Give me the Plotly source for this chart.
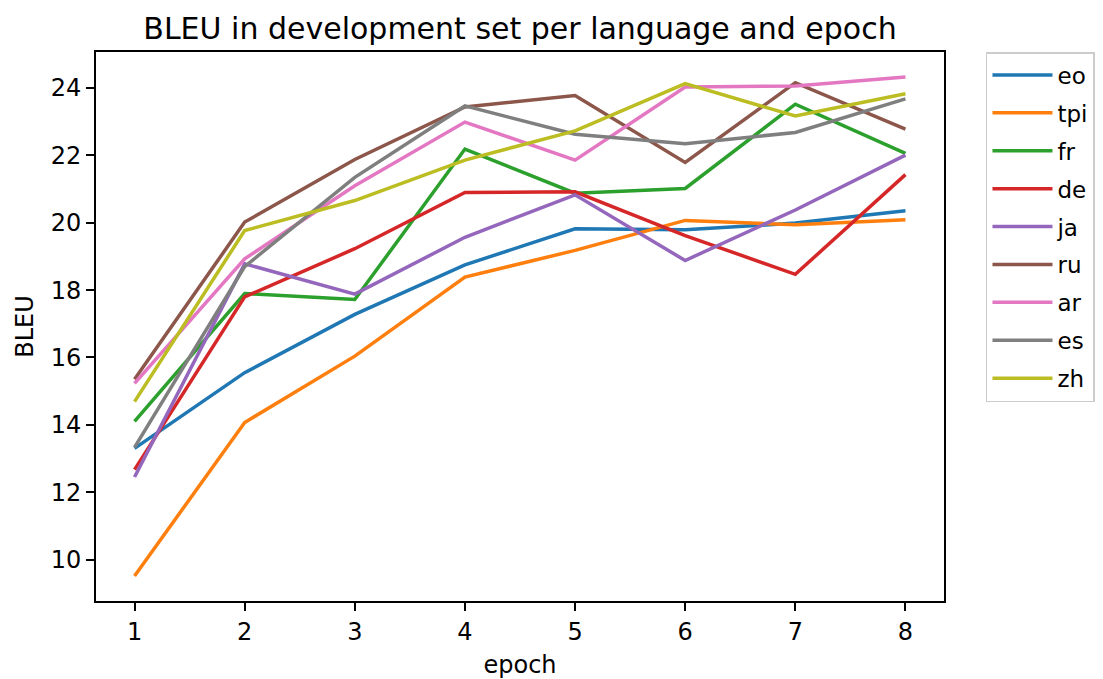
import plotly.graph_objects as go

# BLEU on the development set, one series per language, epochs 1-8
epochs = [1, 2, 3, 4, 5, 6, 7, 8]
languages = ["eo", "tpi", "fr", "de", "ja", "ru", "ar", "es", "zh"]

bleu_eo = [13.30, 15.55, 17.28, 18.75, 19.82, 19.79, 19.99, 20.36]
bleu_tpi = [9.51, 14.07, 16.04, 18.39, 19.18, 20.07, 19.94, 20.09]
bleu_fr = [14.10, 17.90, 17.72, 22.19, 20.88, 21.02, 23.52, 22.06]
bleu_de = [12.67, 17.80, 19.23, 20.90, 20.92, 19.62, 18.47, 21.43]
bleu_ja = [12.45, 18.78, 17.88, 19.57, 20.83, 18.88, 20.38, 22.01]
bleu_ru = [15.35, 20.02, 21.88, 23.44, 23.78, 21.79, 24.16, 22.78]
bleu_ar = [15.23, 18.93, 21.10, 22.99, 21.86, 24.03, 24.06, 24.33]
bleu_es = [13.33, 18.70, 21.35, 23.47, 22.63, 22.35, 22.68, 23.68]
bleu_zh = [14.69, 19.77, 20.66, 21.86, 22.73, 24.13, 23.17, 23.83]

series = [bleu_eo, bleu_tpi, bleu_fr, bleu_de, bleu_ja, bleu_ru, bleu_ar, bleu_es, bleu_zh]
colors = ["#1f77b4", "#ff7f0e", "#2ca02c", "#d62728", "#9467bd",
          "#8c564b", "#e377c2", "#7f7f7f", "#bcbd22"]

FONT = "DejaVu Sans"

fig = go.Figure()
for name, vals, col in zip(languages, series, colors):
    fig.add_trace(go.Scatter(
        x=epochs, y=vals, mode="lines", name=name, legendgroup=name,
        line=dict(color=col, width=3.5),
    ))

all_vals = [v for s in series for v in s]
lo, hi = min(all_vals), max(all_vals)
pad = 0.05 * (hi - lo)

axis_common = dict(
    showgrid=False, zeroline=False, automargin=False,
    showline=True, mirror=True, linecolor="black", linewidth=2,
    ticks="outside", ticklen=8, tickwidth=2, tickcolor="black",
    tickfont=dict(family=FONT, size=24, color="black"),
)

fig.update_layout(
    width=1103, height=679,
    margin=dict(l=96, r=159, t=52, b=78, autoexpand=False),
    paper_bgcolor="white", plot_bgcolor="white",
    font=dict(family=FONT, color="black"),
    title=dict(
        text="BLEU in development set per language and epoch",
        font=dict(family=FONT, size=30, color="black"),
        x=0.5, xanchor="center", xref="paper",
        y=0.958, yanchor="middle", yref="container",
    ),
    xaxis=dict(
        range=[0.65, 8.35], tickmode="array", tickvals=epochs,
        title=dict(text="epoch", font=dict(family=FONT, size=24), standoff=15),
        **axis_common,
    ),
    yaxis=dict(
        range=[lo - pad, hi + pad], tickmode="array",
        tickvals=[10, 12, 14, 16, 18, 20, 22, 24],
        title=dict(text="BLEU", font=dict(family=FONT, size=24), standoff=10),
        **axis_common,
    ),
    legend=dict(
        x=1.0495, xanchor="left", y=1.0, yanchor="top",
        font=dict(family=FONT, size=23, color="black"),
        bordercolor="#cccccc", borderwidth=1.5, bgcolor="white",
        tracegroupgap=5, itemwidth=60,
    ),
)

fig.write_html("out.html")
